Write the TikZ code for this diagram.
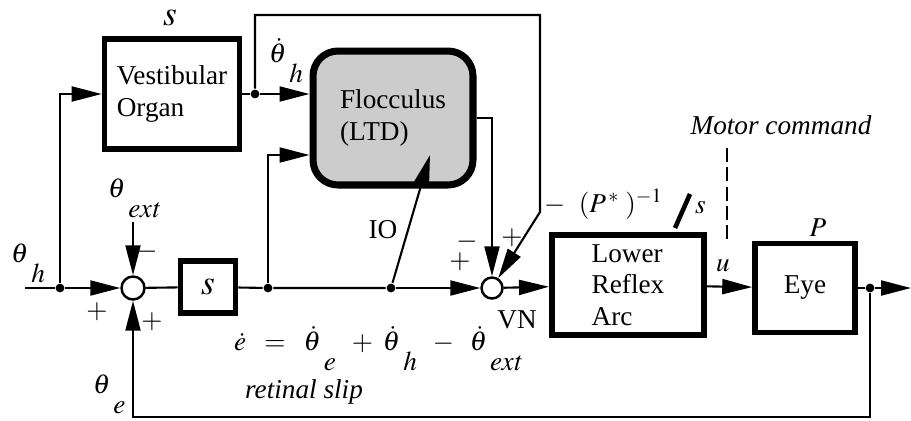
\documentclass[tikz,border=0pt]{standalone}
\usepackage{mathptmx}
\usepackage[no-math]{fontspec}
\setmainfont{Liberation Serif}
\usetikzlibrary{arrows.meta,positioning,calc}
\newcommand{\lsub}[1]{\raisebox{-0.75em}{$#1$}}
\newcommand{\bigs}{\fontsize{20}{22}\selectfont$s$}

\begin{document}
\begin{tikzpicture}[x=0.02cm,y=-0.02cm,font=\fontsize{15.5}{18}\selectfont,line width=1.2pt,
    blk/.style={draw,line width=3.2pt,inner sep=0pt,align=left},
    sumnode/.style={circle,draw,line width=1.4pt,minimum size=0.46cm,inner sep=0pt},
    jdot/.style={circle,fill,inner sep=0pt,minimum size=5pt},
    lbl/.style={anchor=base west,inner sep=0pt},
    arr/.style={-{Triangle[length=0.6cm,width=0.3cm]}}]
    \useasboundingbox (0,0) rectangle (911,420);
    \node[blk,minimum width=2.7cm,minimum height=2.2cm] (vest) at (172,94) {Vestibular\\Organ};
    \node[blk,rounded corners=0.5cm,fill=gray!40,line width=4pt,minimum width=3.2cm,minimum height=2.68cm] (floc) at (393,118) {Flocculus\\(LTD)};
    \node[sumnode] (sum) at (133,288) {};
    \node[blk,minimum width=1.1cm,minimum height=1.05cm,align=center] (deriv) at (208,287) {\bigs};
    \node[sumnode,minimum size=0.42cm] (vn) at (492,288) {};
    \node[blk,minimum width=3.05cm,minimum height=2.0cm] (arc) at (628,285) {Lower\\Reflex\\Arc};
    \node[blk,minimum width=2.0cm,minimum height=1.78cm] (eye) at (805,288) {Eye};
    \node[jdot] (jh) at (60,288) {};
    \node[jdot] (jv) at (255,94) {};
    \node[jdot] (jf) at (268,288) {};
    \node[jdot] (jio) at (391,288) {};
    \node[jdot] (jy) at (870,288) {};
    \coordinate (thin) at (25,288);
    \coordinate (ext) at (133,222);
    \coordinate (ltd) at (430,155);
    \coordinate (top) at (540,15);
    \coordinate (bend) at (540,212);
    \coordinate (fb) at (133,417);
    \coordinate (out) at (911,288);
    \draw (thin) -- (jh);
    \draw[arr] (jh) -- (sum);
    \draw[arr] (jh) |- (vest);
    \draw (vest) -- (jv);
    \draw[arr] (jv) -- (floc.west |- jv);
    \draw[arr] (jv) |- (top) -- (bend) -- (vn);
    \draw[arr] (ext) -- (sum);
    \draw (sum) -- (deriv);
    \draw (deriv) -- (jf) -- (jio);
    \draw[arr] (jio) -- (vn);
    \draw[arr] (jf) |- ($(floc.west)+(0,37)$);
    \draw[arr] (jio) -- (ltd);
    \draw[arr] (floc.east) -| (vn);
    \draw[arr] (vn) -- (arc);
    \draw[arr] (arc) -- (eye);
    \draw (eye) -- (jy);
    \draw[arr] (jy) -- (out);
    \draw[arr] (jy) |- (fb) -- (sum);
    \draw[line width=0.6pt,dash pattern=on 8pt off 3pt] (727,148) -- (727,240);
    \draw[line width=2.6pt] (690,194) -- (675,228);
    \node at (170,18) {\bigs};
    \node[lbl] at (268,62) {$\dot\theta\lsub{\,h}$};
    \node[lbl] at (10,262) {$\theta\lsub{\,h}$};
    \node[lbl] at (107,197) {$\theta\lsub{\,\mathit{ext}}$};
    \node[lbl] at (92,393) {$\theta\lsub{\,e}$};
    \node at (147,252) {$-$};
    \node at (97,312) {$+$};
    \node at (152,322) {$+$};
    \node at (467,242) {$-$};
    \node at (460,262) {$+$};
    \node at (512,238) {$+$};
    \node at (517,320) {VN};
    \node at (383,230) {IO};
    \node[lbl] at (233,350) {$\dot e\;\;=\;\;\dot\theta\lsub{\,e}\;\;+\;\dot\theta\lsub{\,h}\;\;-\;\;\dot\theta\lsub{\,\mathit{ext}}$};
    \node at (304,392) {\textit{retinal slip}};
    \node[lbl] at (543,212) {$-\ \ (P^{\,*}\,\,)^{-1}$};
    \node[lbl] at (694,213) {$s$};
    \node at (781,125) {\textit{Motor command}};
    \node at (723,266) {$u$};
    \node at (818,228) {$P$};
  \end{tikzpicture}
\end{document}
